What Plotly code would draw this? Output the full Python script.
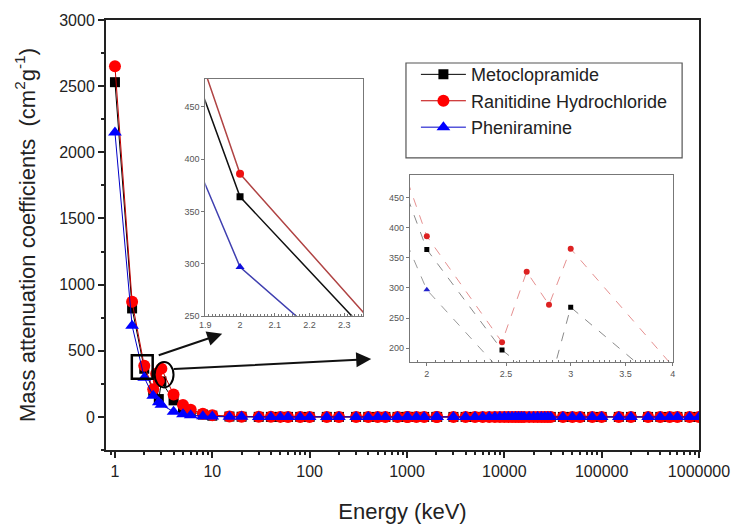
import plotly.graph_objects as go

# Photon energy grid (keV)
energy = [1, 1.5, 2, 2.472, 2.65, 2.822, 3, 4, 5, 6, 8, 10, 15, 20, 30, 40, 50, 60, 80,
          100, 150, 200, 300, 400, 500, 600, 800, 1000, 1022, 1250, 1500, 2000, 2044,
          3000, 4000, 5000, 6000, 7000, 8000, 9000, 10000, 11000, 12000, 13000, 14000,
          15000, 16000, 18000, 20000, 22000, 24000, 26000, 28000, 30000, 40000, 50000,
          60000, 80000, 100000, 150000, 200000, 300000, 400000, 500000, 600000, 800000,
          1000000]

# Mass attenuation coefficients (cm^2/g); None = no value at that energy
metoclopramide = [2530, 820, 364, 197, None, 135, 268, 125, 67, 40, 17.8, 9.3, 2.9, 1.35,
                  0.53, 0.33, 0.25, 0.215, 0.184, 0.168, 0.148, 0.135, 0.117, 0.105, 0.096,
                  0.089, 0.078, 0.070, 0.069, 0.063, 0.057, 0.049, 0.048, 0.039, 0.033,
                  0.029, 0.027, 0.025, 0.023, 0.022, 0.021, 0.020, 0.0195, 0.0189, 0.0184,
                  0.0179, 0.0175, 0.0169, 0.0164, 0.0160, 0.0157, 0.0154, 0.0152, 0.0150,
                  0.0144, 0.0141, 0.0140, 0.0139, 0.0139, 0.0140, 0.0141, 0.0143, 0.0144,
                  0.0145, 0.0146, 0.0147, 0.0148]
ranitidine_hcl = [2650, 870, 386, 210, 327, 272, 365, 170, 91, 55, 24.5, 12.9, 4.0, 1.82,
                  0.68, 0.40, 0.29, 0.24, 0.195, 0.175, 0.152, 0.138, 0.119, 0.107, 0.097,
                  0.090, 0.079, 0.071, 0.070, 0.064, 0.058, 0.050, 0.049, 0.040, 0.034,
                  0.030, 0.028, 0.026, 0.024, 0.023, 0.022, 0.021, 0.0203, 0.0197, 0.0192,
                  0.0187, 0.0183, 0.0177, 0.0172, 0.0168, 0.0165, 0.0162, 0.0160, 0.0158,
                  0.0152, 0.0149, 0.0148, 0.0147, 0.0147, 0.0148, 0.0149, 0.0151, 0.0152,
                  0.0153, 0.0154, 0.0155, 0.0156]
pheniramine = [2150, 690, 297, 160, None, 110, 92, 40, 21, 12.3, 5.3, 2.8, 0.95, 0.50,
               0.26, 0.20, 0.18, 0.17, 0.158, 0.150, 0.136, 0.125, 0.109, 0.098, 0.089,
               0.083, 0.073, 0.065, 0.064, 0.058, 0.053, 0.046, 0.045, 0.036, 0.031,
               0.027, 0.024, 0.022, 0.021, 0.0195, 0.0185, 0.0177, 0.0170, 0.0164, 0.0159,
               0.0155, 0.0151, 0.0145, 0.0141, 0.0137, 0.0134, 0.0131, 0.0129, 0.0127,
               0.0121, 0.0118, 0.0116, 0.0114, 0.0113, 0.0113, 0.0113, 0.0114, 0.0115,
               0.0116, 0.0117, 0.0118, 0.0119]

series_names = ["Metoclopramide", "Ranitidine Hydrochloride", "Pheniramine"]
series_values = [metoclopramide, ranitidine_hcl, pheniramine]

x_tick_vals = [1, 10, 100, 1000, 10000, 100000, 1000000]
x_tick_text = ["1", "10", "100", "1000", "10000", "100000", "1000000"]
y_tick_vals = [0, 500, 1000, 1500, 2000, 2500, 3000]

inset1_x_ticks = [1.9, 2.0, 2.1, 2.2, 2.3]
inset1_x_text = ["1.9", "2", "2.1", "2.2", "2.3"]
inset1_y_ticks = [250, 300, 350, 400, 450]
inset2_x_ticks = [2, 2.5, 3, 3.5, 4]
inset2_x_text = ["2", "2.5", "3", "3.5", "4"]
inset2_x_minor = [1.95, 2.05, 2.1, 2.15, 2.2, 2.25, 2.3, 2.35, 2.4, 2.45,
                  2.55, 2.6, 2.65, 2.7, 2.75, 2.8, 2.85, 2.9, 2.95,
                  3.05, 3.1, 3.15, 3.2, 3.25, 3.3, 3.35, 3.4, 3.45,
                  3.55, 3.6, 3.65, 3.7, 3.75, 3.8, 3.85, 3.9, 3.95]
inset2_y_ticks = [200, 250, 300, 350, 400, 450]

# page geometry (pixels) and helpers to place things in paper coordinates
W, H = 742, 532
ML, MR, MT, MB = 106, 39, 15, 77
PW, PH = W - ML - MR, H - MT - MB

def px(x):
    return (x - ML) / PW

def py(y):
    return (MT + PH - y) / PH

FONT = "Liberation Sans, Arial, sans-serif"
main_style = [
    dict(line=dict(color="#000000", width=1), marker=dict(symbol="square", size=10, color="#000000")),
    dict(line=dict(color="#c00000", width=1), marker=dict(symbol="circle", size=12, color="#ff0000")),
    dict(line=dict(color="#0000c8", width=1), marker=dict(symbol="triangle-up", size=12, color="#0000ff")),
]
inset1_style = [
    dict(line=dict(color="#111111", width=1.5), marker=dict(symbol="square", size=7, color="#000000")),
    dict(line=dict(color="#b04444", width=1.5), marker=dict(symbol="circle", size=8, color="#ee1111")),
    dict(line=dict(color="#4040b0", width=1.5), marker=dict(symbol="triangle-up", size=8, color="#1010dd")),
]
inset2_style = [
    dict(line=dict(color="#8a8a8a", width=1, dash="dash"), marker=dict(symbol="square", size=5, color="#000000")),
    dict(line=dict(color="#e59090", width=1, dash="dash"), marker=dict(symbol="circle", size=6, color="#dd2222")),
    dict(line=dict(color="#9a9a9a", width=1, dash="dash"), marker=dict(symbol="triangle-up", size=6, color="#2222cc")),
]

fig = go.Figure()

for name, vals, st in zip(series_names, series_values, main_style):
    fig.add_trace(go.Scatter(x=energy, y=vals, name=name, mode="lines+markers",
                             connectgaps=True, xaxis="x", yaxis="y", **st))
for name, vals, st in zip(series_names, series_values, inset1_style):
    fig.add_trace(go.Scatter(x=energy, y=vals, name=name, mode="lines+markers",
                             connectgaps=True, showlegend=False, xaxis="x2", yaxis="y2",
                             cliponaxis=True, **st))
for name, vals, st in zip(series_names, series_values, inset2_style):
    fig.add_trace(go.Scatter(x=energy, y=vals, name=name, mode="lines+markers",
                             connectgaps=True, showlegend=False, xaxis="x3", yaxis="y3",
                             cliponaxis=True, **st))

axis_common = dict(showline=True, linecolor="#222222", linewidth=2, mirror=True,
                   showgrid=False, zeroline=False, ticks="outside",
                   tickcolor="#222222", tickwidth=1.5, ticklen=6,
                   tickfont=dict(family=FONT, size=16, color="#222222"))

inset_common = dict(showline=True, linecolor="#777777", linewidth=1, mirror=True,
                    showgrid=False, zeroline=False, tickcolor="#777777", tickwidth=1,
                    tickfont=dict(family=FONT, size=9, color="#555555"))

fig.update_layout(
    width=W, height=H, autosize=False,
    margin=dict(l=ML, r=MR, t=MT, b=MB),
    paper_bgcolor="white", plot_bgcolor="white",
    font=dict(family=FONT, color="#222222"),
    xaxis=dict(type="log", range=[-0.092, 6.0], domain=[0, 1],
               tickvals=x_tick_vals, ticktext=x_tick_text,
               minor=dict(ticks="outside", ticklen=3, tickcolor="#222222", dtick="D1"),
               title=dict(text="Energy (keV)", font=dict(family=FONT, size=22, color="#222222"),
                          standoff=24),
               **axis_common),
    yaxis=dict(range=[-250, 3000], domain=[0, 1], tickvals=y_tick_vals,
               minor=dict(ticks="outside", ticklen=3, tickcolor="#222222", dtick=250),
               title=dict(text="Mass attenuation coefficients  (cm<sup>2</sup>g<sup>-1</sup>)",
                          font=dict(family=FONT, size=22, color="#222222"), standoff=18),
               **axis_common),
    xaxis2=dict(anchor="y2", domain=[px(206), px(365)], range=[1.9, 2.355],
                tickvals=inset1_x_ticks, ticktext=inset1_x_text, ticks="inside", ticklen=3,
                minor=dict(ticks="inside", ticklen=2, dtick=0.01, tickcolor="#777777"),
                **inset_common),
    yaxis2=dict(anchor="x2", domain=[py(318), py(75)], range=[250, 477],
                tickvals=inset1_y_ticks, ticks="outside", ticklen=3, **inset_common),
    xaxis3=dict(anchor="y3", type="log", domain=[px(412), px(677)], range=[0.2804, 0.6025],
                tickvals=inset2_x_ticks, ticktext=inset2_x_text, ticks="outside", ticklen=3,
                minor=dict(ticks="inside", ticklen=2, tickcolor="#777777",
                           tickvals=inset2_x_minor),
                **inset_common),
    yaxis3=dict(anchor="x3", domain=[py(365), py(174)], range=[177, 487],
                tickvals=inset2_y_ticks, ticks="outside", ticklen=3, **inset_common),
    legend=dict(x=px(418), y=py(52), xanchor="left", yanchor="top",
                bgcolor="rgba(0,0,0,0)", borderwidth=0, itemwidth=45,
                font=dict(family=FONT, size=18, color="#222222"),
                tracegroupgap=0),
)

# legend frame, zoom box, ellipse
fig.add_shape(type="rect", xref="paper", yref="paper",
              x0=px(408), x1=px(686), y0=py(156), y1=py(59),
              line=dict(color="#555555", width=1.2))
fig.add_shape(type="rect", xref="paper", yref="paper",
              x0=px(132), x1=px(153), y0=py(382), y1=py(358),
              line=dict(color="#000000", width=2.5))
fig.add_shape(type="circle", xref="paper", yref="paper",
              x0=px(155), x1=px(174), y0=py(391), y1=py(365),
              line=dict(color="#000000", width=2))

# pointer arrows
for tail, head in [((158, 358), (223, 336)), ((174, 372), (373, 362))]:
    fig.add_annotation(xref="paper", yref="paper", x=px(head[0]), y=py(head[1]),
                       ax=tail[0] - head[0], ay=tail[1] - head[1], axref="pixel", ayref="pixel",
                       text="", showarrow=True, arrowhead=2, arrowsize=1.5,
                       arrowwidth=2, arrowcolor="#111111")

fig.write_html("out.html")
